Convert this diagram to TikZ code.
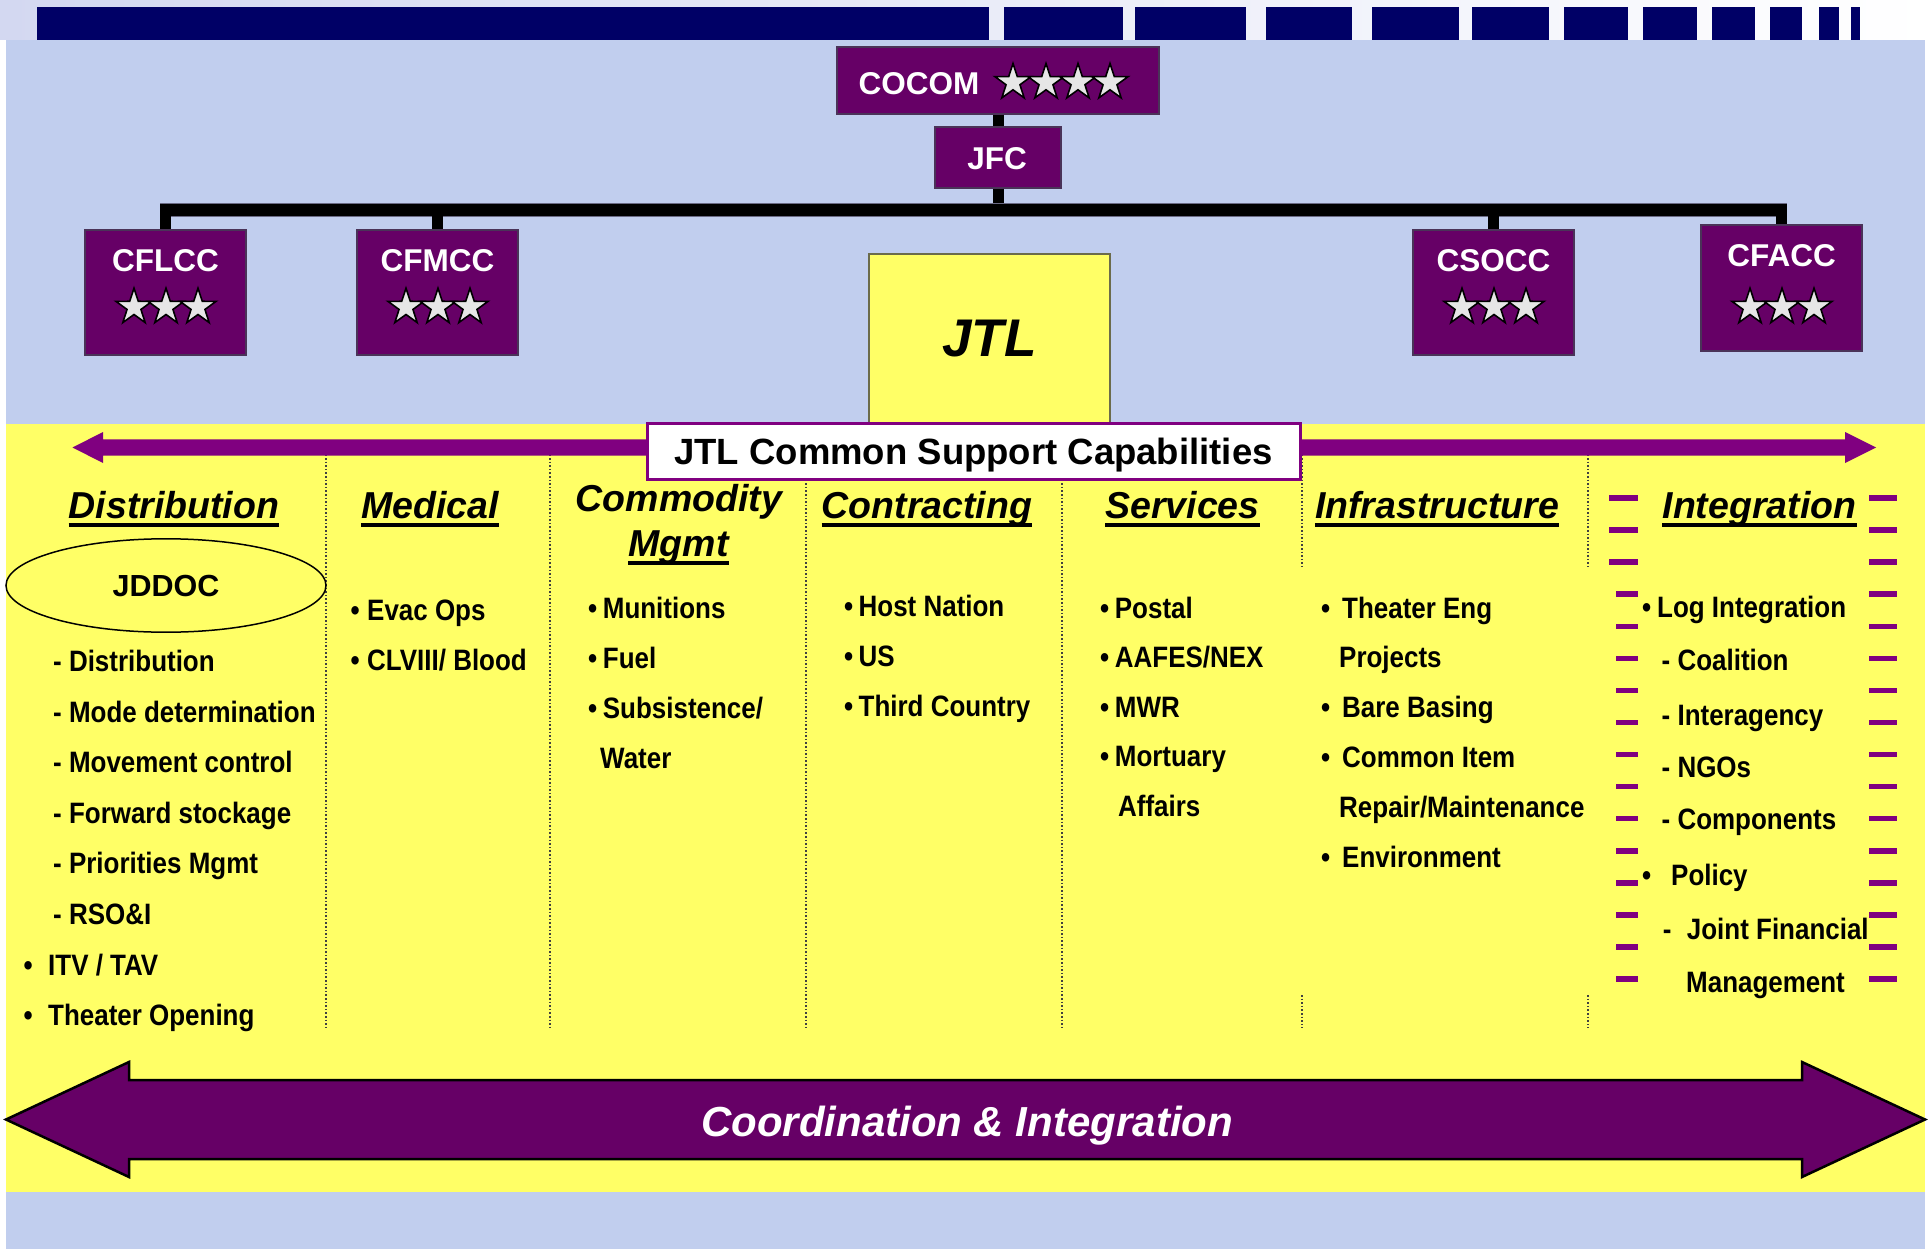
\documentclass[tikz,border=0pt]{standalone}
\usepackage{fontspec}
\setmainfont{Liberation Sans}
\newfontfamily\condfont{Liberation Sans}[FakeStretch=0.88]
\usetikzlibrary{shapes.geometric}
\definecolor{lblue}{HTML}{C1CEEE}
\definecolor{yel}{HTML}{FFFF66}
\definecolor{dpurp}{HTML}{660066}
\definecolor{purp}{HTML}{800080}
\definecolor{navy}{HTML}{000066}
\definecolor{starfill}{HTML}{E6E6E6}
\definecolor{boxedge}{HTML}{4A3358}
\definecolor{lav}{HTML}{D3D8F1}
\definecolor{jtledge}{HTML}{6B6B4A}
\definecolor{busedge}{HTML}{6A6A84}
\tikzset{
  pbox/.style={draw=boxedge, line width=1.5pt, fill=dpurp, inner sep=0pt},
  btxt/.style={text=white, font=\bfseries\fontsize{31.5}{32}\selectfont, anchor=base, inner sep=0pt},
  conn/.style={line width=11pt, black},
  hd/.style={font=\bfseries\itshape\fontsize{37.5}{40}\selectfont, anchor=base, inner sep=0pt},
  item/.style={font=\condfont\bfseries\fontsize{29.5}{30}\selectfont, anchor=base west, inner sep=0pt},
  colsep/.style={line width=1.6pt, dash pattern=on 1.6pt off 2pt, black!75},
  idash/.style={line width=5.5pt, purp},
  mystar/.pic={\draw[fill=starfill, line width=1.6pt, line join=miter]
    (90:19) -- (126:7.3) -- (162:19) -- (198:7.3) -- (234:19) -- (270:7.3)
    -- (306:19) -- (342:7.3) -- (18:19) -- (54:7.3) -- cycle;}
}
\newcommand\ulnode[1]{\draw[line width=4pt] ([yshift=-6.5pt]#1.base west) -- ([yshift=-6.5pt]#1.base east);}
\newcommand\bul[1]{\makebox[#1][l]{•}}
\begin{document}
\begin{tikzpicture}[x=1pt,y=1pt]
% backgrounds
\fill[white] (0,0) rectangle (1931,-1249);
\useasboundingbox (0,0) rectangle (1931,-1249);
\shade[left color=lav, right color=white] (0,0) rectangle (1931,-40);
\fill[lblue] (5.5,-40) rectangle (1925,-1249);
\fill[yel] (6,-423.5) rectangle (1925,-1192);
% navy title bar
\foreach \a/\b in {37/989,1004/1123,1135/1246,1266/1352,1372/1459,1472/1549,1564/1628,1643/1697,1712/1755,1770/1802,1819/1839,1851/1860}
  \fill[navy] (\a,-6.7) rectangle (\b,-40);
% org boxes
\node[pbox, minimum width=322pt, minimum height=67pt] (cocom) at (998,-80.5) {};
\node[btxt] (cocomtxt) at (919,-95) {COCOM};
\foreach \x in {1013,1046,1078,1110} \pic at (\x,-82.5) {mystar};
\node[pbox, minimum width=126pt, minimum height=61pt] (jfc) at (998,-157.5) {};
\node[btxt] (jfctxt) at (997,-170) {JFC};
\node[pbox, minimum width=161pt, minimum height=125pt] (cflcc) at (165.5,-292.5) {};
\node[btxt] (cflcctxt) at (165.5,-271.7) {CFLCC};
\node[pbox, minimum width=161pt, minimum height=125pt] (cfmcc) at (437.5,-292.5) {};
\node[btxt] (cfmcctxt) at (437.5,-271.7) {CFMCC};
\node[pbox, minimum width=161pt, minimum height=125pt] (csocc) at (1493.5,-292.5) {};
\node[btxt] (csocctxt) at (1493.5,-271.7) {CSOCC};
\node[pbox, minimum width=161pt, minimum height=126pt] (cfacc) at (1781.5,-288) {};
\node[btxt] (cfacctxt) at (1781.5,-266.7) {CFACC};
\foreach \x in {134,166,198,406,438,470,1462,1494,1526,1750,1782,1814} \pic at (\x,-307.2) {mystar};
% connectors
\coordinate (bus) at (998,-210);
\draw[conn] (cocom.south) -- (jfc.north);
\draw[conn] (jfc.south) -- (jfc.south |- bus);
\draw[line width=14pt, busedge] ([xshift=-5.5pt]cflcc.north |- bus) -- ([xshift=5.5pt]cfacc.north |- bus);
\draw[line width=12pt, black] ([xshift=-5.5pt]cflcc.north |- bus) -- ([xshift=5.5pt]cfacc.north |- bus);
\draw[conn] (cflcc.north |- bus) -- (cflcc.north);
\draw[conn] (cfmcc.north |- bus) -- (cfmcc.north);
\draw[conn] (csocc.north |- bus) -- (csocc.north);
\draw[conn] (cfacc.north |- bus) -- (cfacc.north);
% JTL box
\node[draw=jtledge, line width=1.5pt, fill=yel, inner sep=0pt, minimum width=241pt, minimum height=170pt,
  font=\bfseries\itshape\fontsize{53}{56}\selectfont] (jtl) at (989.5,-339) {JTL};
% column separators
\foreach \x in {326,550,806,1062} \draw[colsep] (\x,-440) -- (\x,-1028);
\foreach \x in {1302,1588} {\draw[colsep] (\x,-440) -- (\x,-567); \draw[colsep] (\x,-995) -- (\x,-1028);}
% capabilities arrow
\fill[purp] (72.5,-447.5) -- (103,-432) -- (103,-439.3) -- (1845,-439.3) -- (1845,-432) -- (1876,-447.5)
  -- (1845,-463) -- (1845,-455.5) -- (103,-455.5) -- (103,-463) -- cycle;
\node[draw=purp, line width=3pt, fill=white, inner sep=0pt, minimum width=653pt, minimum height=56pt,
  text depth=0pt, font=\bfseries\fontsize{36.5}{38}\selectfont] (jtlcap) at (973.5,-451.5) {JTL Common Support Capabilities};
% headings
\node[hd] (hdist) at (174,-518) {Distribution}; \ulnode{hdist}
\node[hd] (hmed) at (429.8,-518) {Medical}; \ulnode{hmed}
\node[hd] (hcom1) at (679,-511.7) {Commodity};
\node[hd] (hcom2) at (678.5,-556.7) {Mgmt}; \ulnode{hcom2}
\node[hd] (hcon) at (927,-518) {Contracting}; \ulnode{hcon}
\node[hd] (hser) at (1182.5,-518) {Services}; \ulnode{hser}
\node[hd] (hinf) at (1437,-518) {Infrastructure}; \ulnode{hinf}
\node[hd] (hint) at (1759.5,-518) {Integration}; \ulnode{hint}
% Distribution column
\node[draw, ellipse, line width=1.5pt, inner sep=0pt, minimum width=320pt, minimum height=93.4pt,
  font=\bfseries\fontsize{30.5}{32}\selectfont] (jddoc) at (166,-585.5) {JDDOC};
\node[item] (d1) at (53,-671.7) {- Distribution};
\node[item] (d2) at (53,-722) {- Mode determination};
\node[item] (d3) at (53,-772.5) {- Movement control};
\node[item] (d4) at (53,-823) {- Forward stockage};
\node[item] (d5) at (53,-873.5) {- Priorities Mgmt};
\node[item] (d6) at (53,-924) {- RSO\&I};
\node[item] (d7) at (23.5,-975) {\bul{24.5pt}ITV / TAV};
\node[item] (d8) at (23.5,-1025) {\bul{24.5pt}Theater Opening};
% Medical
\node[item] (m1) at (350.5,-620) {\bul{16.5pt}Evac Ops};
\node[item] (m2) at (350.5,-670) {\bul{16.5pt}CLVIII/ Blood};
% Commodity
\node[item] (c1) at (588,-618.3) {\bul{14.7pt}Munitions};
\node[item] (c2) at (588,-668.3) {\bul{14.7pt}Fuel};
\node[item] (c3) at (588,-718.3) {\bul{14.7pt}Subsistence/};
\node[item] (c4) at (600,-768.3) {Water};
% Contracting
\node[item] (k1) at (844,-616.7) {\bul{14.5pt}Host Nation};
\node[item] (k2) at (844,-666.7) {\bul{14.5pt}US};
\node[item] (k3) at (844,-716.7) {\bul{14.5pt}Third Country};
% Services
\node[item] (s1) at (1100,-618.3) {\bul{14.7pt}Postal};
\node[item] (s2) at (1100,-667.3) {\bul{14.7pt}AAFES/NEX};
\node[item] (s3) at (1100,-717.3) {\bul{14.7pt}MWR};
\node[item] (s4) at (1100,-766.7) {\bul{14.7pt}Mortuary};
\node[item] (s5) at (1118,-816.7) {Affairs};
% Infrastructure
\node[item] (i1) at (1321,-618.3) {\bul{21pt}Theater Eng};
\node[item] (i2) at (1339,-667.3) {Projects};
\node[item] (i3) at (1321,-717.3) {\bul{21pt}Bare Basing};
\node[item] (i4) at (1321,-767.3) {\bul{21pt}Common Item};
\node[item] (i5) at (1339,-817.3) {Repair/Maintenance};
\node[item] (i6) at (1321,-867.3) {\bul{21pt}Environment};
% Integration
\foreach \k in {0,...,15} {
  \pgfmathsetmacro\yy{-498-32.07*\k}
  \ifnum\k<3 \draw[idash] (1609,\yy) -- (1638,\yy); \else \draw[idash] (1616,\yy) -- (1638,\yy); \fi
  \draw[idash] (1869,\yy) -- (1897,\yy);
}
\node[item] (g1) at (1642,-617) {\bul{15pt}Log Integration};
\node[item] (g2) at (1661.5,-670) {- Coalition};
\node[item] (g3) at (1661.5,-725) {- Interagency};
\node[item] (g4) at (1661.5,-777.3) {- NGOs};
\node[item] (g5) at (1661.5,-829.3) {- Components};
\node[item] (g6) at (1642,-885) {\bul{29pt}Policy};
\node[item] (g7) at (1662.7,-939.3) {\makebox[24pt][l]{-}Joint Financial};
\node[item] (g8) at (1686,-992) {Management};
% coordination arrow
\draw[fill=dpurp, draw=black, line width=2.5pt, line join=miter]
  (6,-1119.5) -- (129,-1062) -- (129,-1080) -- (1802,-1080) -- (1802,-1062) -- (1925,-1119.5)
  -- (1802,-1177) -- (1802,-1159) -- (129,-1159) -- (129,-1177) -- cycle;
\node[text=white, font=\bfseries\itshape\fontsize{42}{44}\selectfont, anchor=base, inner sep=0pt] (coord) at (967,-1136) {Coordination \& Integration};
\end{tikzpicture}
\end{document}
